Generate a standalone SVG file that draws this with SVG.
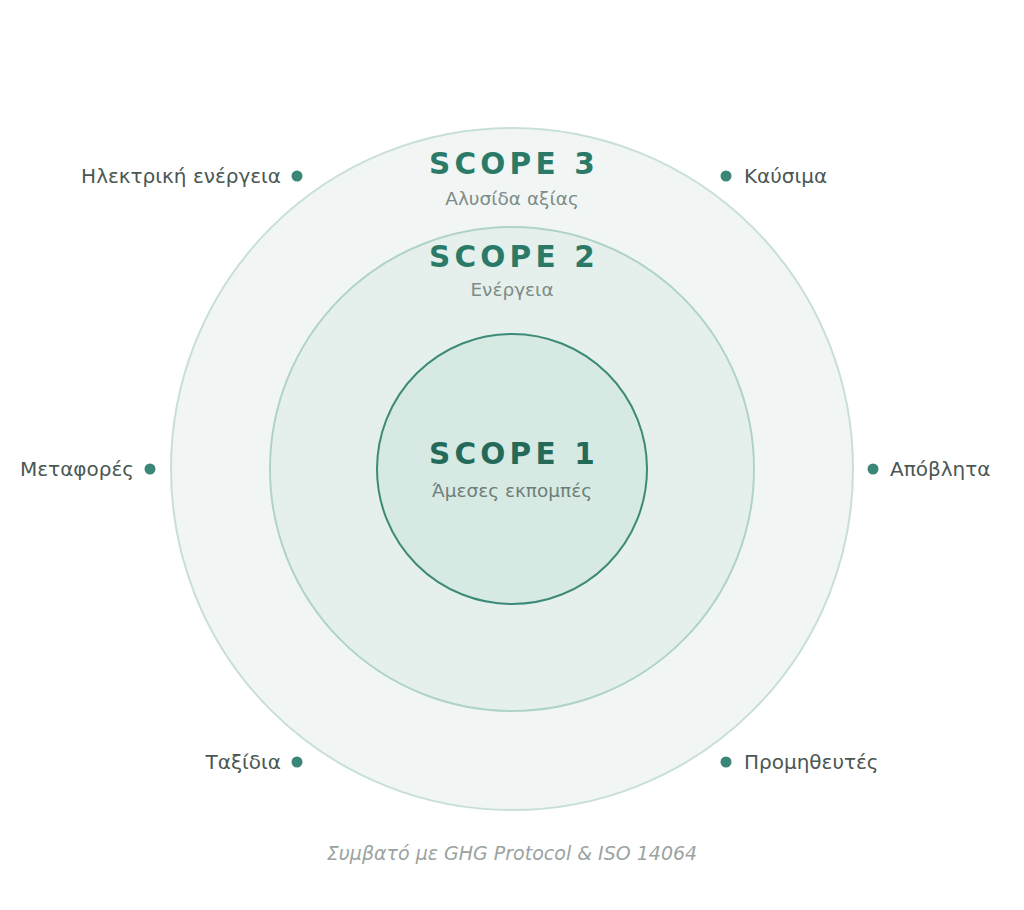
<svg xmlns="http://www.w3.org/2000/svg" width="1024" height="910" viewBox="0 0 1024 910">
<style>
.t{font-family:"DejaVu Sans",sans-serif;}
.scope{font-weight:bold;font-size:29.5px;letter-spacing:4.2px;fill:#2b7a68;text-anchor:middle;}
.sub{font-size:18.5px;fill:#7d8c87;text-anchor:middle;}
.lbl{font-size:20px;fill:#4b5753;}
.dot{fill:#3b8676;}
</style>
<rect width="1024" height="910" fill="#ffffff"/>
<g id="scope3">
<circle cx="512" cy="469" r="341" fill="#f1f6f4" stroke="#c8dfd8" stroke-width="2"/>
</g>
<g id="scope2">
<circle cx="512" cy="469" r="242" fill="#e5f0ec" stroke="#b0d3c8" stroke-width="2"/>
</g>
<g id="scope1">
<circle cx="512" cy="469" r="135" fill="#d7e9e3" stroke="#3d8a78" stroke-width="2"/>
</g>
<g id="scope3-label">
<text class="t scope" x="514" y="174">SCOPE 3</text>
<text class="t sub" x="512" y="205">Αλυσίδα αξίας</text>
</g>
<g id="scope2-label">
<text class="t scope" x="514" y="267">SCOPE 2</text>
<text class="t sub" x="512" y="296">Ενέργεια</text>
</g>
<g id="scope1-label">
<text class="t scope" x="514" y="464" style="fill:#236a59">SCOPE 1</text>
<text class="t sub" x="512" y="497" style="fill:#6e7f79">Άμεσες εκπομπές</text>
</g>
<g id="item-electricity">
<circle class="dot" cx="297" cy="176" r="5.5"/>
<text class="t lbl" x="281" y="183" text-anchor="end">Ηλεκτρική ενέργεια</text>
</g>
<g id="item-fuel">
<circle class="dot" cx="726" cy="176" r="5.5"/>
<text class="t lbl" x="744" y="183">Καύσιμα</text>
</g>
<g id="item-transport">
<circle class="dot" cx="150" cy="469" r="5.5"/>
<text class="t lbl" x="134" y="476" text-anchor="end">Μεταφορές</text>
</g>
<g id="item-waste">
<circle class="dot" cx="873" cy="469" r="5.5"/>
<text class="t lbl" x="890" y="476">Απόβλητα</text>
</g>
<g id="item-travel">
<circle class="dot" cx="297" cy="762" r="5.5"/>
<text class="t lbl" x="281" y="769" text-anchor="end">Ταξίδια</text>
</g>
<g id="item-suppliers">
<circle class="dot" cx="726" cy="762" r="5.5"/>
<text class="t lbl" x="744" y="769">Προμηθευτές</text>
</g>
<g id="connectors"></g>
<text class="t" x="512" y="860" text-anchor="middle" font-size="19" font-style="italic" fill="#9aa3a0">Συμβατό με GHG Protocol &amp; ISO 14064</text>
</svg>
